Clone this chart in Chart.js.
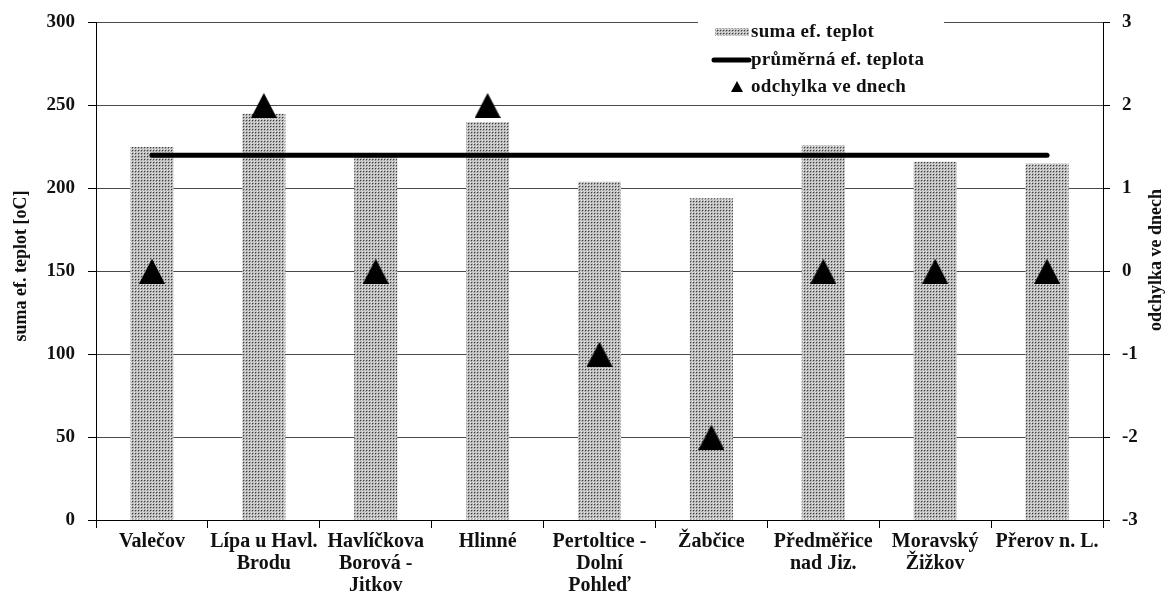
<!DOCTYPE html>
<html lang="cs">
<head>
    <meta charset="UTF-8">
    <title>Suma efektivních teplot</title>
    <script src="https://cdn.jsdelivr.net/npm/chart.js"></script>
    <style>
        body {
            margin: 0;
            background: #ffffff;
        }
        #chart {
            display: block;
        }
    </style>
</head>
<body>
    <canvas id="chart" width="1167" height="597"></canvas>

    <script>
        // Stations (multi-line labels under the axis)
        const stations = [
            ['Valečov'],
            ['Lípa u Havl.', 'Brodu'],
            ['Havlíčkova', 'Borová -', 'Jitkov'],
            ['Hlinné'],
            ['Pertoltice -', 'Dolní', 'Pohleď'],
            ['Žabčice'],
            ['Předměřice', 'nad Jiz.'],
            ['Moravský', 'Žižkov'],
            ['Přerov n. L.']
        ];
        const sumaEfTeplot = [225, 245, 219, 240, 204, 194, 226, 216, 215];
        const prumernaEfTeplota = [220, 220, 220, 220, 220, 220, 220, 220, 220];
        const odchylkaVeDnech = [0, 2, 0, 2, -1, -2, 0, 0, 0];

        const leftTicks = [0, 50, 100, 150, 200, 250, 300];
        const rightTicks = [-3, -2, -1, 0, 1, 2, 3];

        const serif = '"Liberation Serif", "Times New Roman", serif';

        // stippled grey fill for the bars
        function makeStipple() {
            const c = document.createElement('canvas');
            c.width = 3;
            c.height = 3;
            const g = c.getContext('2d');
            const px = [
                ['#3c3c3c', '#a0a0a0', '#c4c4c4'],
                ['#a0a0a0', '#dadada', '#b4b4b4'],
                ['#c4c4c4', '#b4b4b4', '#e8e8e8']
            ];
            for (let y = 0; y < 3; y++) {
                for (let x = 0; x < 3; x++) {
                    g.fillStyle = px[y][x];
                    g.fillRect(x, y, 1, 1);
                }
            }
            return g.createPattern(c, 'repeat');
        }

        function makeTriangle(w, h) {
            const c = document.createElement('canvas');
            c.width = w;
            c.height = h;
            const g = c.getContext('2d');
            g.fillStyle = '#000';
            g.beginPath();
            g.moveTo(w / 2, 0);
            g.lineTo(w, h);
            g.lineTo(0, h);
            g.closePath();
            g.fill();
            return c;
        }

        const stipple = makeStipple();
        const bigTriangle = makeTriangle(26, 25);

        // legend box and rotated axis titles
        const extras = {
            id: 'extras',
            afterDraw(chart) {
                const ctx = chart.ctx;
                ctx.save();

                // legend
                ctx.fillStyle = '#fff';
                ctx.fillRect(698, 14, 246, 84);
                ctx.font = 'bold 19px ' + serif;
                ctx.letterSpacing = '0.3px';
                ctx.textBaseline = 'middle';
                ctx.textAlign = 'left';

                ctx.fillStyle = stipple;
                ctx.fillRect(715, 28, 34, 8);
                ctx.fillStyle = '#111';
                ctx.fillText('suma ef. teplot', 751, 32);

                ctx.strokeStyle = '#000';
                ctx.lineWidth = 5;
                ctx.lineCap = 'round';
                ctx.beginPath();
                ctx.moveTo(714, 60);
                ctx.lineTo(749, 60);
                ctx.stroke();
                ctx.fillText('průměrná ef. teplota', 751, 60);

                ctx.fillStyle = '#000';
                ctx.beginPath();
                ctx.moveTo(737, 81);
                ctx.lineTo(743, 92);
                ctx.lineTo(731, 92);
                ctx.closePath();
                ctx.fill();
                ctx.fillStyle = '#111';
                ctx.fillText('odchylka ve dnech', 751, 87);

                // axis titles, both reading bottom to top
                ctx.font = 'bold 18px ' + serif;
                ctx.letterSpacing = '0px';
                ctx.textAlign = 'center';
                ctx.translate(21, 266);
                ctx.rotate(-Math.PI / 2);
                ctx.fillText('suma ef. teplot [oC]', 0, 0);
                ctx.setTransform(1, 0, 0, 1, 0, 0);
                ctx.translate(1156, 260);
                ctx.rotate(-Math.PI / 2);
                ctx.fillText('odchylka ve dnech', 0, 0);

                ctx.restore();
            }
        };

        new Chart(document.getElementById('chart'), {
            data: {
                labels: stations,
                datasets: [
                    {
                        type: 'line',
                        label: 'odchylka ve dnech',
                        data: odchylkaVeDnech,
                        yAxisID: 'y1',
                        showLine: false,
                        pointStyle: bigTriangle,
                        pointRadius: 13,
                        order: 0
                    },
                    {
                        type: 'line',
                        label: 'průměrná ef. teplota',
                        data: prumernaEfTeplota,
                        yAxisID: 'y',
                        borderColor: '#000',
                        borderWidth: 5,
                        borderCapStyle: 'round',
                        pointRadius: 0,
                        order: 1
                    },
                    {
                        type: 'bar',
                        label: 'suma ef. teplot',
                        data: sumaEfTeplot,
                        yAxisID: 'y',
                        backgroundColor: stipple,
                        borderWidth: 0,
                        categoryPercentage: 1,
                        barPercentage: 0.385,
                        order: 2
                    }
                ]
            },
            options: {
                responsive: false,
                animation: false,
                devicePixelRatio: 1,
                layout: {
                    padding: { top: 16, left: 0, right: 0, bottom: 0 }
                },
                plugins: {
                    legend: { display: false },
                    tooltip: { enabled: false }
                },
                scales: {
                    x: {
                        type: 'category',
                        offset: true,
                        afterFit(scale) { scale.height = 77; },
                        grid: {
                            offset: true,
                            drawOnChartArea: false,
                            tickLength: 8,
                            tickColor: '#000'
                        },
                        border: { color: '#000', width: 1 },
                        ticks: {
                            autoSkip: false,
                            maxRotation: 0,
                            padding: 3,
                            color: '#111',
                            font: { family: serif, size: 20, weight: 'bold', lineHeight: 1.1 }
                        }
                    },
                    y: {
                        position: 'left',
                        min: 0,
                        max: 300,
                        afterFit(scale) { scale.width = 96; },
                        afterBuildTicks(scale) {
                            scale.ticks = leftTicks.map(v => ({ value: v }));
                        },
                        grid: {
                            color: '#4a4a4a',
                            lineWidth: 1,
                            tickLength: 8,
                            tickColor: '#000'
                        },
                        border: { color: '#000', width: 1 },
                        ticks: {
                            padding: 13,
                            color: '#111',
                            font: { family: serif, size: 19, weight: 'bold', lineHeight: 1 }
                        }
                    },
                    y1: {
                        position: 'right',
                        min: -3,
                        max: 3,
                        afterFit(scale) { scale.width = 64; },
                        afterBuildTicks(scale) {
                            scale.ticks = rightTicks.map(v => ({ value: v }));
                        },
                        grid: {
                            drawOnChartArea: false,
                            tickLength: 7,
                            tickColor: '#000'
                        },
                        border: { color: '#000', width: 1 },
                        ticks: {
                            padding: 12,
                            color: '#111',
                            font: { family: serif, size: 19, weight: 'bold', lineHeight: 1 }
                        }
                    }
                }
            },
            plugins: [extras]
        });
    </script>
</body>
</html>
